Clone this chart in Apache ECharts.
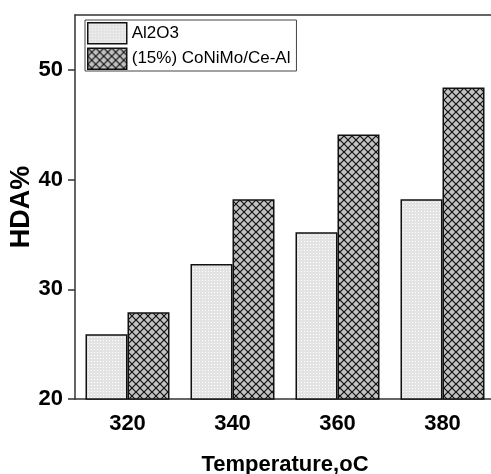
<!DOCTYPE html>
<html>
<head>
<meta charset="utf-8">
<script src="https://cdn.jsdelivr.net/npm/echarts@6/dist/echarts.min.js"></script>
<style>
  html, body { margin: 0; padding: 0; background: #ffffff; }
  #chart { width: 491px; height: 474px; }
</style>
</head>
<body>
<div id="chart"></div>
<script>
// Reaction temperatures (°C) and HDA conversion (%)
var temperatures = ['320', '340', '360', '380'];
var seriesNames = ['Al2O3', '(15%) CoNiMo/Ce-Al'];
var al2o3Values = [25.9, 32.3, 35.2, 38.2];
var coNiMoValues = [27.9, 38.2, 44.1, 48.4];
var yTicks = [20, 30, 40, 50];

// Fine dotted fill for the support bars
function dotPattern() {
  var c = document.createElement('canvas');
  c.width = 3; c.height = 3;
  var ctx = c.getContext('2d');
  ctx.fillStyle = '#e3e3e3';
  ctx.fillRect(0, 0, 3, 3);
  ctx.fillStyle = '#ffffff';
  ctx.fillRect(1, 1, 1, 1);
  return c;
}

// Diagonal cross-hatch fill for the catalyst bars
function hatchPattern() {
  var s = 8;
  var c = document.createElement('canvas');
  c.width = s; c.height = s;
  var ctx = c.getContext('2d');
  ctx.fillStyle = '#c2c2c2';
  ctx.fillRect(0, 0, s, s);
  ctx.strokeStyle = '#111111';
  ctx.lineWidth = 1.2;
  ctx.beginPath();
  ctx.moveTo(0, 0); ctx.lineTo(s, s);
  ctx.moveTo(s, 0); ctx.lineTo(0, s);
  ctx.stroke();
  return c;
}

var chart = echarts.init(document.getElementById('chart'), null, { renderer: 'canvas' });

var fontFamily = 'Liberation Sans, Arial, sans-serif';
var axisFont = { fontFamily: fontFamily, fontWeight: 'bold', fontSize: 22, color: '#000' };

chart.setOption({
  animation: false,
  backgroundColor: '#ffffff',
  grid: { left: 75, right: -4, top: 15, bottom: 75, containLabel: false, outerBoundsMode: 'none' },
  legend: {
    orient: 'vertical',
    left: 85,
    top: 20,
    data: seriesNames,
    icon: 'rect',
    itemWidth: 39,
    itemHeight: 21,
    itemGap: 3,
    padding: [2, 6, 1, 2],
    borderColor: '#444',
    borderWidth: 1,
    borderRadius: 0,
    backgroundColor: '#fff',
    itemStyle: { borderColor: '#111', borderWidth: 1.5 },
    textStyle: { fontFamily: fontFamily, fontSize: 17, color: '#000' }
  },
  xAxis: [
    {
      type: 'category',
      data: temperatures,
      name: 'Temperature,oC',
      nameLocation: 'middle',
      nameGap: 55,
      nameMoveOverlap: false,
      nameTextStyle: axisFont,
      axisLine: { lineStyle: { color: '#333', width: 1.5 } },
      axisTick: { alignWithLabel: true, length: 6, lineStyle: { color: '#333', width: 1.5 } },
      axisLabel: Object.assign({ margin: 14 }, axisFont),
      splitLine: { show: false }
    },
    {
      type: 'category',
      position: 'top',
      data: temperatures,
      axisLine: { show: true, onZero: false, lineStyle: { color: '#333', width: 1.5 } },
      axisTick: { show: false },
      axisLabel: { show: false }
    }
  ],
  yAxis: {
    type: 'value',
    min: 20,
    max: 55,
    interval: 10,
    name: 'HDA%',
    nameLocation: 'middle',
    nameGap: 40,
    nameMoveOverlap: false,
    nameTextStyle: Object.assign({}, axisFont, { fontSize: 27 }),
    axisLine: { show: true, lineStyle: { color: '#333', width: 1.5 } },
    axisTick: { show: true, length: 7, customValues: yTicks, lineStyle: { color: '#333', width: 1.5 } },
    axisLabel: Object.assign({ margin: 12, customValues: yTicks }, axisFont),
    splitLine: { show: false }
  },
  series: [
    {
      name: seriesNames[0],
      type: 'bar',
      data: al2o3Values,
      barWidth: 42,
      barGap: '0%',
      itemStyle: {
        color: { image: dotPattern(), repeat: 'repeat' },
        borderColor: '#111',
        borderWidth: 1.5
      }
    },
    {
      name: seriesNames[1],
      type: 'bar',
      data: coNiMoValues,
      barWidth: 42,
      barGap: '0%',
      itemStyle: {
        color: { image: hatchPattern(), repeat: 'repeat' },
        borderColor: '#111',
        borderWidth: 1.5
      }
    }
  ]
});
</script>
</body>
</html>
